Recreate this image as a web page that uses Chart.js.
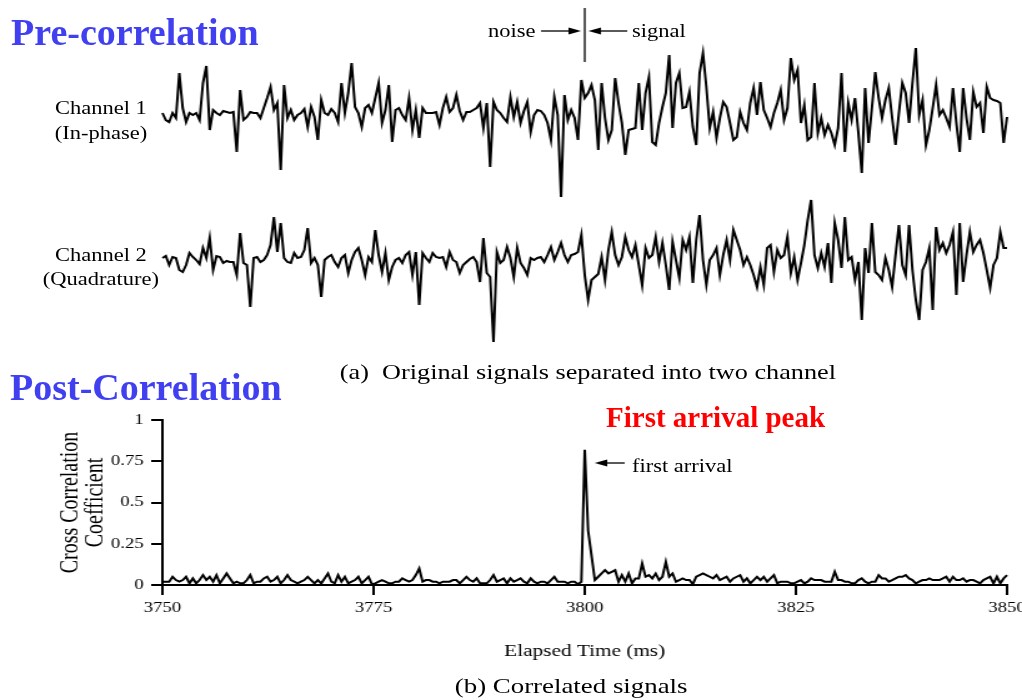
<!DOCTYPE html>
<html>
<head>
<meta charset="utf-8">
<script src="https://cdn.jsdelivr.net/npm/chart.js@4.4.0/dist/chart.umd.min.js"></script>
<style>
  body { margin: 0; background: #fff; font-family: "Liberation Serif", "Times New Roman", serif; color: #000; }
  #page { position: relative; width: 1022px; height: 700px; overflow: hidden; }
  /* the whole figure is a bit wider than normal Times, so stretch the stage */
  #stage { position: absolute; left: 0; top: 0; width: 818px; height: 700px; transform: scaleX(1.2494); transform-origin: 0 0; }
  .t { position: absolute; white-space: nowrap; line-height: 1; }
  .head { position: absolute; white-space: nowrap; line-height: 1; font-weight: bold; }
  canvas { position: absolute; left: 0; }
</style>
</head>
<body>
<div id="page">
  <div id="stage">
    <canvas id="traces" width="818" height="360" style="top:0"></canvas>
    <canvas id="corr" width="840" height="300" style="top:400px"></canvas>

    <div class="t" style="left:390.6px; top:22px; font-size:18px">noise</div>
    <div class="t" style="left:505.8px; top:22px; font-size:18px">signal</div>

    <div class="t" style="left:20.8px; width:120px; text-align:center; top:99px; font-size:18px">Channel 1</div>
    <div class="t" style="left:20.8px; width:120px; text-align:center; top:124px; font-size:18px">(In-phase)</div>
    <div class="t" style="left:20.8px; width:120px; text-align:center; top:246px; font-size:18px">Channel 2</div>
    <div class="t" style="left:20.8px; width:120px; text-align:center; top:270px; font-size:18px">(Quadrature)</div>

    <div class="t" style="left:272px; top:362px; font-size:21px">(a)&nbsp; Original signals separated into two channel</div>
    <div class="t" style="left:505.8px; top:457px; font-size:18px">first arrival</div>
    <div class="t" style="left:364px; top:676px; font-size:21.5px">(b) Correlated signals</div>
  </div>

  <div class="head" style="left:11px; top:13px; font-size:38px; color:#4040f0">Pre-correlation</div>
  <div class="head" style="left:10px; top:368px; font-size:38px; color:#4040f0">Post-Correlation</div>
  <div class="head" style="left:606px; top:403px; font-size:29px; color:#ff0000">First arrival peak</div>
</div>

<script>
// time base shared by all three traces (ms)
var startTime = 3750;
var sampleStep = 0.4;
var boundaryTime = 3800; // noise | signal, also first arrival

// Channel 1 (in-phase), amplitude
var channel1 = [
  0, -7, -9, 0, -5, 40, 5, -9, 0, -2,
  0, -7, 30, 47, -17, 3, 0, -2, 2, 1,
  0, 1, -39, 23, -7, -4, 1, 0, 0, -5,
  5, 15, 26, 3, 10, -57, 28, -5, 3, -7,
  -2, 0, 4, -14, 6, -4, -27, 13, 0, -2,
  4, 0, -9, 30, 0, 20, 50, 6, 0, -14,
  5, 8, 0, 15, 30, -10, 3, 28, -29, 3,
  5, -2, -7, 15, -17, 3, -25, 5, 0, 0,
  0, 1, -12, 5, 16, 1, 5, 18, 2, -7,
  1, 1, 3, 5, 10, -15, 10, -54, 11, 3,
  0, -5, -9, 16, -4, 11, -10, 2, 11, -19,
  -2, 3, 2, -2, -10, -27, 16, -2, -84, 18,
  -7, 3, -5, -27, 33, 15, 20, 28, 13, -37,
  30, -5, -27, -17, 35, 10, -10, -42, -17, -16,
  -15, 30, -17, 20, 36, -29, -32, -10, 6, 20,
  58, -15, 30, 40, 5, 6, 21, -14, -32, 40,
  60, 26, -15, 1, -25, -5, 11, 6, -10, -27,
  -24, 1, -10, -17, 10, 25, -2, 31, 3, -5,
  -14, 0, 10, 23, -7, 5, 55, 33, 43, -10,
  8, -27, -24, 30, -20, -5, -22, -12, -20, -32,
  -15, 40, -39, 10, -7, 15, -20, -60, 25, -30,
  5, 41, 15, -5, 13, 25, -5, -32, 0, 30,
  20, -10, 30, 65, -2, 13, -32, -17, 5, 28,
  -2, 3, -5, -14, 25, -10, -39, 25, -5, -27,
  21, 6, 10, -20, 26, 15, 13, 12, 10, -30,
  -4
];

// Channel 2 (quadrature)
var channel2 = [
  2, 4, -5, 3, 2, -10, -12, -5, 7, 3,
  0, -4, 12, 2, 22, -10, 4, 3, -3, -1,
  -2, -2, -15, 27, -3, -5, -47, 2, 3, -2,
  0, 5, 15, 43, 8, 37, 2, -2, -3, 7,
  2, 3, 10, 32, -3, 2, -5, -37, 0, 3,
  5, -2, -7, 2, 5, -13, 0, 8, 12, 0,
  -15, 3, -2, 30, 5, -12, 7, -20, -7, 0,
  2, -3, 5, 8, -15, 8, -45, 7, 2, -2,
  7, 3, 2, 3, -7, 8, 0, -2, -13, -5,
  -2, 1, 3, -2, -22, 22, -13, -17, -82, 8,
  -3, 0, 13, 2, -17, 12, -3, -8, -15, 2,
  0, 2, 3, -2, 5, 13, 0, 8, 17, 5,
  -2, 5, 6, 8, 25, -15, -40, -20, -17, -14,
  3, -20, 10, 28, 5, -5, 3, 23, 10, 3,
  15, -5, -25, 12, 2, 5, 23, -2, 17, -5,
  -30, 18, 0, -18, 20, 10, 23, -23, 20, 45,
  0, -25, 0, 5, 12, -15, 5, 20, 0, 30,
  20, 10, -5, 3, -5, -15, -27, -7, -25, 12,
  15, -12, 10, 2, 5, 23, -13, 3, -20, -3,
  15, 40, 60, 5, -8, 7, -7, 17, -23, 37,
  20, -8, 43, 0, 3, -20, -2, -60, 12, -13,
  37, -12, -15, -20, 2, -10, -27, 5, 35, -5,
  -15, 35, -10, -40, -60, -10, -2, 12, -50, 33,
  10, 17, 7, 15, 28, -35, 37, -22, 5, 28,
  8, 15, 20, 7, -10, -28, -5, 2, 28, 12,
  12
];

// Cross correlation coefficient
var correlation = [
  .02, .02, .02, .05, .03, .02, .03, .05, .01, .04,
  .01, .03, .06, .03, .05, .02, .06, .01, .04, .07,
  .04, .01, .02, .01, .01, .03, .06, .01, .02, .02,
  .04, .05, .02, .03, .05, .01, .03, .06, .03, .02,
  .01, .02, .03, .05, .03, .01, .03, .01, .04, .07,
  .02, .01, .06, .02, .05, .01, .02, .03, .05, .01,
  .03, .05, .005, .01, .02, .03, .02, .01, .01, .02,
  .02, .04, .03, .02, .03, .06, .10, .02, .03, .03,
  .02, .02, .01, .02, .02, .02, .03, .03, .01, .03,
  .05, .03, .02, .04, .01, .01, .01, .03, .06, .02,
  .03, .04, .01, .04, .02, .03, .04, .02, .01, .04,
  .02, .01, .02, .02, .01, .03, .05, .02, .02, .02,
  .01, .02, .02, .005, .02, .82, .33, .18, .03, .05,
  .07, .09, .07, .08, .09, .02, .06, .02, .07, .01,
  .04, .04, .13, .05, .06, .04, .07, .03, .05, .14,
  .05, .07, .02, .03, .04, .03, .03, .005, .05, .06,
  .07, .06, .05, .04, .06, .03, .04, .05, .02, .04,
  .05, .06, .02, .04, .01, .03, .05, .03, .05, .02,
  .04, .06, .01, .02, .02, .02, .01, .01, .02, .03,
  .01, .02, .04, .03, .03, .03, .02, .02, .02, .08,
  .03, .03, .02, .02, .01, .01, .03, .04, .02, .01,
  .02, .02, .06, .04, .04, .02, .03, .04, .05, .05,
  .06, .04, .03, .01, .02, .03, .03, .04, .03, .03,
  .03, .04, .05, .02, .05, .03, .03, .04, .02, .03,
  .03, .02, .01, .03, .04, .05, .01, .05, .01, .04,
  .06
];

var yTicks = [0, 0.25, 0.5, 0.75, 1];
var xTicks = [3750, 3775, 3800, 3825, 3850];

function toPoints(values) {
  return values.map(function (v, i) {
    return { x: startTime + i * sampleStep, y: v };
  });
}

var serif = "'Liberation Serif', 'Times New Roman', serif";

// small filled arrow, head at (x2, y)
function arrow(ctx, x1, x2, y) {
  var dir = x2 > x1 ? 1 : -1;
  ctx.beginPath();
  ctx.moveTo(x1, y);
  ctx.lineTo(x2 - dir * 6, y);
  ctx.stroke();
  ctx.beginPath();
  ctx.moveTo(x2, y);
  ctx.lineTo(x2 - dir * 10, y - 3.5);
  ctx.lineTo(x2 - dir * 10, y + 3.5);
  ctx.closePath();
  ctx.fill();
}

var boundaryMarker = {
  id: "boundaryMarker",
  afterDraw: function (chart) {
    var ctx = chart.ctx;
    var x = chart.scales.x.getPixelForValue(boundaryTime);
    ctx.save();
    ctx.strokeStyle = "#000";
    ctx.fillStyle = "#000";
    ctx.lineWidth = 1.3;
    ctx.beginPath();
    ctx.moveTo(x, 8);
    ctx.lineTo(x, 62);
    ctx.stroke();
    arrow(ctx, x - 35, x - 3, 31);
    arrow(ctx, x + 34, x + 3, 31);
    ctx.restore();
  }
};

var arrivalMarker = {
  id: "arrivalMarker",
  afterDraw: function (chart) {
    var ctx = chart.ctx;
    var x = chart.scales.x.getPixelForValue(boundaryTime);
    ctx.save();
    ctx.strokeStyle = "#000";
    ctx.fillStyle = "#000";
    ctx.lineWidth = 1.3;
    arrow(ctx, x + 32, x + 8, 63);
    ctx.restore();
  }
};

// top: the two raw channels on one canvas, each with its own hidden y scale
new Chart(document.getElementById("traces"), {
  type: "line",
  data: {
    datasets: [
      { data: toPoints(channel1), yAxisID: "y1", borderColor: "#000", borderWidth: 2, pointRadius: 0, clip: false },
      { data: toPoints(channel2), yAxisID: "y2", borderColor: "#000", borderWidth: 2, pointRadius: 0, clip: false }
    ]
  },
  options: {
    responsive: false,
    animation: false,
    devicePixelRatio: 1,
    layout: { padding: { left: 130, right: 12, top: 0, bottom: 0 } },
    plugins: { legend: { display: false }, tooltip: { enabled: false } },
    scales: {
      x: { type: "linear", min: 3750, max: 3850, display: false },
      y1: { min: -247, max: 113, display: false },
      y2: { min: -100, max: 260, display: false }
    }
  },
  plugins: [boundaryMarker]
});

// bottom: correlation coefficient (canvas is wider so the last tick label is not cut)
new Chart(document.getElementById("corr"), {
  type: "line",
  data: {
    datasets: [
      { data: toPoints(correlation), borderColor: "#000", borderWidth: 2, pointRadius: 0, clip: false }
    ]
  },
  options: {
    responsive: false,
    animation: false,
    devicePixelRatio: 1,
    layout: { padding: { left: 0, right: 34, top: 20, bottom: 0 } },
    plugins: { legend: { display: false }, tooltip: { enabled: false } },
    scales: {
      x: {
        type: "linear",
        min: xTicks[0],
        max: xTicks[xTicks.length - 1],
        border: { color: "#000", width: 2 },
        grid: { drawOnChartArea: false, color: "#000", lineWidth: 2, tickLength: 10 },
        afterBuildTicks: function (scale) {
          scale.ticks = xTicks.map(function (v) { return { value: v }; });
        },
        ticks: {
          color: "#000",
          font: { family: serif, size: 15 },
          padding: 4,
          maxRotation: 0,
          autoSkip: false,
          callback: function (v) { return String(v); }
        },
        title: {
          display: true,
          text: "Elapsed Time (ms)",
          color: "#000",
          font: { family: serif, size: 17 },
          padding: { top: 0, bottom: 38 }
        },
        afterFit: function (scale) {
          scale.height = 115;
          // let the end labels hang over the edges instead of shrinking the plot
          scale.paddingLeft = 0;
          scale.paddingRight = 0;
        }
      },
      y: {
        min: 0,
        max: 1,
        border: { color: "#000", width: 2 },
        grid: { drawOnChartArea: false, color: "#000", lineWidth: 2, tickLength: 9 },
        afterBuildTicks: function (scale) {
          scale.ticks = yTicks.map(function (v) { return { value: v }; });
        },
        ticks: {
          color: "#000",
          font: { family: serif, size: 15 },
          padding: 6,
          callback: function (v) { return String(v); }
        },
        title: {
          display: true,
          text: ["Cross Correlation", "Coefficient"],
          color: "#000",
          font: { family: serif, size: 20, lineHeight: 1 },
          padding: { top: 47, bottom: 0 }
        },
        afterFit: function (scale) {
          scale.width = 130;
          scale.paddingTop = 0;
          scale.paddingBottom = 0;
        }
      }
    }
  },
  plugins: [arrivalMarker]
});
</script>
</body>
</html>
